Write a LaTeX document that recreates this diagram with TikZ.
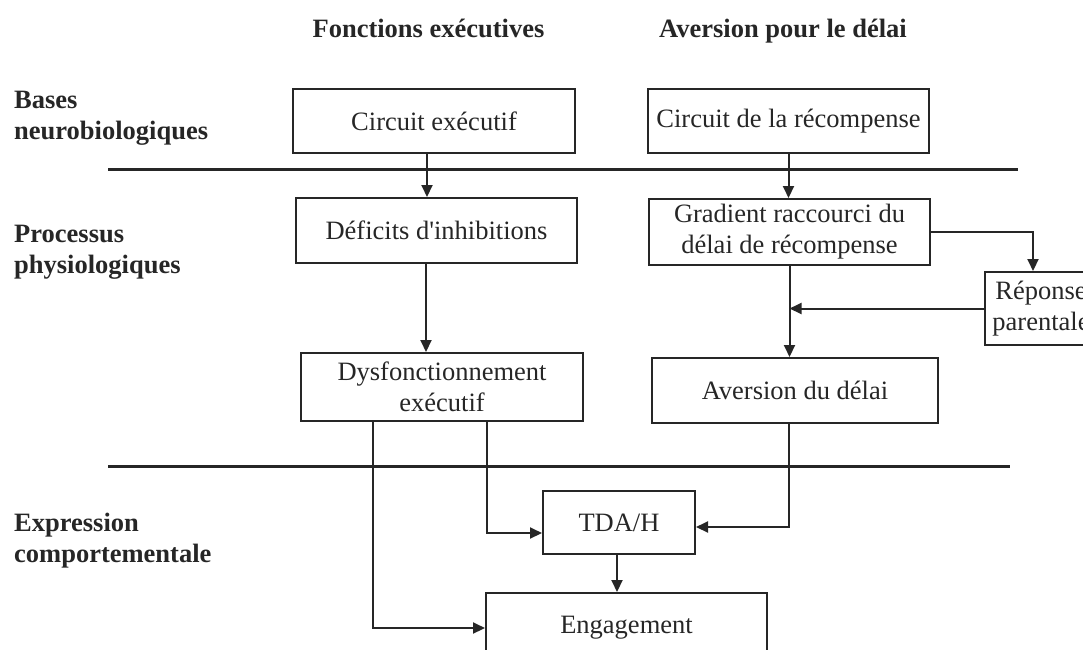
\documentclass[tikz,border=0pt]{standalone}
\usepackage{fontspec}
\setmainfont{Liberation Serif}[Ligatures=TeXOff]
\usetikzlibrary{arrows.meta}
\definecolor{ink}{gray}{0.15}
\tikzset{
  boxnode/.style={draw=ink, line width=2pt, inner sep=0pt, align=center,
    font=\fontsize{26.5}{31}\selectfont, text=ink},
  lbl/.style={inner sep=0pt, align=left, font=\fontsize{26.5}{31}\selectfont\bfseries, text=ink},
  hdr/.style={inner sep=0pt, font=\fontsize{26.5}{31}\selectfont\bfseries, text=ink},
  arr/.style={draw=ink, line width=2pt, -{Triangle[length=12pt,width=11pt]}},
  sepline/.style={draw=ink, line width=3pt},
}
\begin{document}
\begin{tikzpicture}[x=1pt,y=-1pt]
\useasboundingbox (0,0) rectangle (1083,649);
\clip (0,0) rectangle (1083,649);
% headers
\node[hdr, anchor=base] (h1) at (428.5,37) {Fonctions exécutives};
\node[hdr, anchor=base] (h2) at (783,37) {Aversion pour le délai};
% left labels
\node[lbl, anchor=west] (l1) at (14,118) {Bases\\neurobiologiques};
\node[lbl, anchor=west] (l2) at (14,252) {Processus\\physiologiques};
\node[lbl, anchor=west] (l3) at (14,541) {Expression\\comportementale};
% separators
\coordinate (s1a) at (108,169); \coordinate (s1b) at (1018,169);
\coordinate (s2a) at (108,466); \coordinate (s2b) at (1010,466);
\draw[sepline] (s1a) -- (s1b);
\draw[sepline] (s2a) -- (s2b);
% boxes
\node[boxnode, minimum width=282pt, minimum height=64pt] (ce) at (434,121) {Circuit exécutif};
\node[boxnode, minimum width=281pt, minimum height=64pt] (cr) at (788.5,121) {Circuit de la récompense};
\node[boxnode, minimum width=281pt, minimum height=65pt] (di) at (436.5,230.5) {Déficits d'inhibitions};
\node[boxnode, minimum width=281pt, minimum height=66pt] (gr) at (789.5,232) {Gradient raccourci du\\délai de récompense};
\node[boxnode, minimum width=112pt, minimum height=73pt] (rp) at (1041,308.5) {Réponse\\parentale};
\node[boxnode, minimum width=282pt, minimum height=68pt] (dy) at (442,387) {Dysfonctionnement\\exécutif};
\node[boxnode, minimum width=286pt, minimum height=65pt] (av) at (795,390.5) {Aversion du délai};
\node[boxnode, minimum width=152pt, minimum height=63pt] (td) at (619,522.5) {TDA/H};
\node[boxnode, minimum width=281pt, minimum height=70pt] (en) at (626.5,628) {Engagement};
% connectors
\coordinate (p1) at ([xshift=-7pt]ce.south);
\draw[arr] (p1) -- (p1 |- di.north);
\draw[arr] (cr.south) -- (cr.south |- gr.north);
\coordinate (p3) at ([xshift=-10.5pt]di.south);
\draw[arr] (p3) -- (p3 |- dy.north);
\draw[arr] (gr.south) -- (gr.south |- av.north);
\coordinate (p5) at ([xshift=-8pt]rp.north);
\draw[arr] (gr.east) -| (p5);
\draw[arr] (rp.west) -- (rp.west -| gr.south);
\coordinate (p7) at ([xshift=-6pt]av.south);
\coordinate (q7) at ([yshift=-4.5pt]td.east);
\draw[arr] (p7) |- (q7);
\coordinate (p8) at ([xshift=45pt]dy.south);
\coordinate (q8) at ([yshift=-10.5pt]td.west);
\draw[arr] (p8) |- (q8);
\coordinate (p9) at ([xshift=-69pt]dy.south);
\draw[arr] (p9) |- (en.west);
\coordinate (p10) at ([xshift=-2pt]td.south);
\draw[arr] (p10) -- (p10 |- en.north);
\end{tikzpicture}
\end{document}
